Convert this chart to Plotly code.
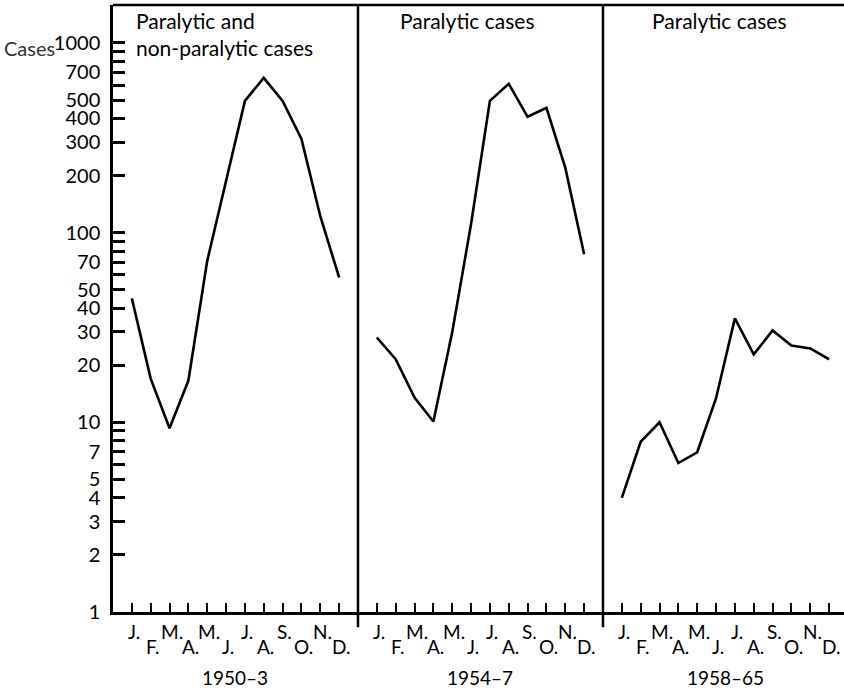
import plotly.graph_objects as go

# ---- data ----
MONTHS_UPPER = ["J.", "", "M.", "", "M.", "", "J.", "", "S.", "", "N.", ""]
MONTHS_LOWER = ["", "F.", "", "A.", "", "J.", "", "A.", "", "O.", "", "D."]
PERIODS = ["1950–3", "1954–7", "1958–65"]
PANEL_TITLES = ["Paralytic and\nnon-paralytic cases", "Paralytic cases", "Paralytic cases"]

cases_1950_3 = [45, 17, 9.3, 16.6, 71, 188, 495, 654, 495, 312, 122, 58]
cases_1954_7 = [28, 21.5, 13.5, 10.1, 29.8, 111, 495, 609, 408, 455, 220, 77]
cases_1958_65 = [4.0, 7.9, 10, 6.1, 6.95, 13.4, 35.3, 22.8, 30.5, 25.4, 24.5, 21.5]
SERIES = [cases_1950_3, cases_1954_7, cases_1958_65]

Y_LABELED = [1, 2, 3, 4, 5, 7, 10, 20, 30, 40, 50, 70, 100, 200, 300, 400, 500, 700, 1000]
Y_MINOR = [6, 8, 9, 60, 80, 90, 600, 800, 900]

# ---- layout helpers ----
FONT = "Lato, 'Open Sans', sans-serif"
PANEL_STEP = 13           # 12 months + 1 gap slot
TITLE_XSHIFT = [24, 43, 50]

fig = go.Figure()

for k, vals in enumerate(SERIES):
    xs = [PANEL_STEP * k + i for i in range(len(vals))]
    fig.add_trace(go.Scatter(x=xs, y=vals, mode="lines",
                             line=dict(color="black", width=2.6),
                             hoverinfo="skip", showlegend=False))

tickvals_x = [PANEL_STEP * k + i for k in range(3) for i in range(12)]

ytickvals = sorted(Y_LABELED + Y_MINOR)
yticktext = [str(v) if v in Y_LABELED else "" for v in ytickvals]

annotations = []
for k in range(3):
    for i in range(12):
        x = PANEL_STEP * k + i
        if MONTHS_UPPER[i]:
            annotations.append(dict(x=x, y=0, xref="x", yref="paper", text=MONTHS_UPPER[i],
                                    showarrow=False, xanchor="center", yanchor="middle",
                                    xshift=2, yshift=-19, font=dict(size=19, color="black", family=FONT)))
        if MONTHS_LOWER[i]:
            annotations.append(dict(x=x, y=0, xref="x", yref="paper", text=MONTHS_LOWER[i],
                                    showarrow=False, xanchor="center", yanchor="middle",
                                    xshift=2, yshift=-34, font=dict(size=19, color="black", family=FONT)))
    annotations.append(dict(x=PANEL_STEP * k + 5.5, y=0, xref="x", yref="paper", text=PERIODS[k],
                            showarrow=False, xanchor="center", yanchor="middle",
                            yshift=-65, font=dict(size=19, color="black", family=FONT)))
    for j, line in enumerate(PANEL_TITLES[k].split("\n")):
        annotations.append(dict(x=PANEL_STEP * k - 1, y=1, xref="x", yref="paper", text=line,
                                showarrow=False, xanchor="left", yanchor="middle",
                                xshift=TITLE_XSHIFT[k] - 3, yshift=-15 - 27 * j,
                                font=dict(size=21, color="black", family=FONT)))

annotations.append(dict(x=0, y=1, xref="paper", yref="paper", text="Cases", showarrow=False,
                        xanchor="right", yanchor="middle", xshift=-56, yshift=-43,
                        font=dict(size=20, color="#333", family=FONT)))

shapes = [dict(type="line", xref="paper", yref="paper", x0=0, x1=1, y0=1, y1=1,
               line=dict(color="black", width=2.5))]
for k in (1, 2):
    shapes.append(dict(type="line", xref="x", yref="paper",
                       x0=PANEL_STEP * k - 1, x1=PANEL_STEP * k - 1, y0=-0.025, y1=1,
                       line=dict(color="black", width=2.5)))

fig.update_layout(
    width=844, height=688,
    margin=dict(l=113, r=0, t=5, b=76),
    paper_bgcolor="white", plot_bgcolor="white",
    font=dict(family=FONT, color="black"),
    xaxis=dict(range=[-1, 37.79], tickvals=tickvals_x, showticklabels=False,
               ticks="inside", ticklen=9, tickwidth=2, tickcolor="black",
               showline=True, linecolor="black", linewidth=2.5,
               showgrid=False, zeroline=False, fixedrange=True),
    yaxis=dict(type="log", range=[0, 3.2], tickvals=ytickvals, ticktext=yticktext,
               ticks="inside", ticklen=12, tickwidth=2.5, tickcolor="black",
               tickfont=dict(size=20, color="black", family=FONT),
               ticklabelstandoff=6,
               showline=True, linecolor="black", linewidth=2.5,
               showgrid=False, zeroline=False, fixedrange=True),
    annotations=annotations,
    shapes=shapes,
)

fig.write_html("out.html", post_script="document.body.style.margin='0px';",
               config={"displayModeBar": False})
